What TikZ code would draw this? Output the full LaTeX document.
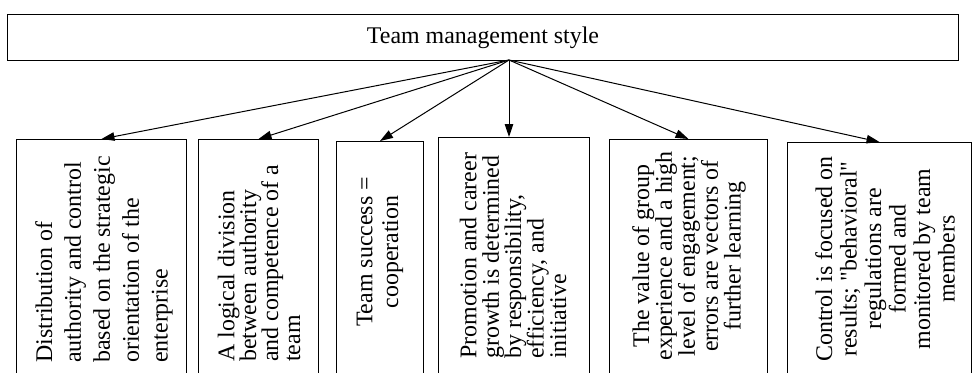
\documentclass[tikz,border=0pt]{standalone}
\usepackage{fontspec}
\setmainfont{Liberation Serif}
\newfontfamily\plainserif{Liberation Serif}
\usetikzlibrary{positioning,arrows.meta}
\lineskiplimit=-30pt

\tikzset{
  headbox/.style={draw, line width=1bp, minimum width=951bp, minimum height=46bp,
    anchor=north west, inner sep=0pt, font=\fontsize{24}{28}\selectfont},
  leaf/.style={draw, line width=1bp, anchor=north west, minimum height=260bp, inner sep=0pt},
  vtext/.style={rotate=90, inner sep=0pt, font={\fontsize{24}{#1}\selectfont}},
  arr/.style={line width=1bp, -{Triangle[length=13bp,width=8.5bp]}}
}

\begin{document}
\begin{tikzpicture}[x=1bp,y=-1bp]
  \useasboundingbox (0,0) rectangle (973,372);
  \clip (0,0) rectangle (973,372);

  \node[headbox] (head) at (7,14) {Team management style};
  \coordinate (hub) at (509,60);

  % the six boxes, cut off at the bottom
  \node[leaf, minimum width=170bp] (b1) at (16,139) {};
  \node[leaf, minimum width=120bp] (b2) at (198,139) {};
  \node[leaf, minimum width=87bp]  (b3) at (336,141) {};
  \node[leaf, minimum width=151bp] (b4) at (438,137) {};
  \node[leaf, minimum width=158bp] (b5) at (609,139) {};
  \node[leaf, minimum width=184bp] (b6) at (787,142) {};

  \node[vtext=29, anchor=west, align=left] (t1) at (104,363)
    {Distribution of\\authority and control\\based on the strategic\\orientation of the\\enterprise};
  \node[vtext=22, anchor=west, align=left] (t2) at (259,362)
    {A logical division\\between authority\\and competence of a\\team};
  \node[vtext=26, align=center] (t3) at (380,252)
    {Team success =\\cooperation};
  \node[vtext=22.5, anchor=west, align=left] (t4) at (513,359)
    {Promotion and career\\growth is determined\\by responsibility,\\efficiency, and\\initiative};
  \node[vtext=23, align=center] (t5) at (689,256)
    {The value of group\\experience and a high\\level of engagement;\\errors are vectors of\\further learning};
  \node[vtext=24.6, align=center] (t6) at (885,259)
    {Control is focused on\\results; {\plainserif"behavioral"}\\regulations are\\formed and\\monitored by team\\members};

  % arrows
  \foreach \b in {b1,b2,b3,b5,b6}
    \draw[arr] (hub) -- (\b.north);
  \draw[arr] (hub) -- (hub |- b4.north);
\end{tikzpicture}
\end{document}
